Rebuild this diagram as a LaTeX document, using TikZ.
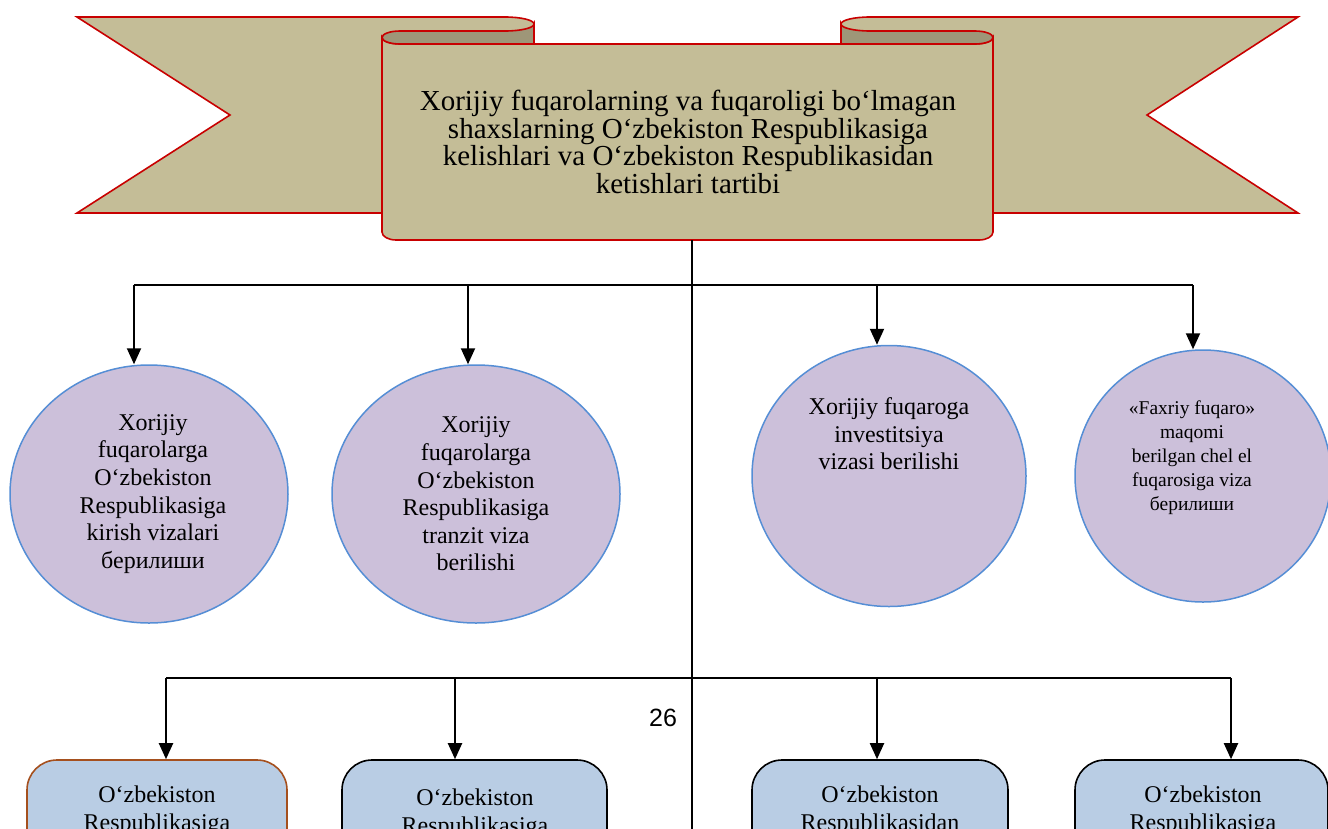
\documentclass[tikz,border=0pt]{standalone}
\usepackage{fontspec}
\setmainfont{Liberation Serif}
\newfontfamily\arialf{Liberation Sans}
\usetikzlibrary{arrows.meta,shapes.geometric}
\definecolor{khaki}{RGB}{196,189,151}
\definecolor{khakid}{RGB}{158,150,120}
\definecolor{rred}{RGB}{200,0,0}
\definecolor{lav}{RGB}{204,192,218}
\definecolor{eblue}{RGB}{85,142,213}
\definecolor{boxfill}{RGB}{185,205,228}
\definecolor{brownb}{RGB}{165,80,30}
\begin{document}
\begin{tikzpicture}[x=1pt,y=-1pt,
 ribbon/.style={fill=khaki,draw=rred,line width=1.6pt},
 curl/.style={fill=khakid,draw=rred,line width=1.6pt},
 oval/.style={ellipse,fill=lav,draw=eblue,line width=1.5pt,inner sep=0pt},
 etext/.style={align=center,font=\fontsize{24}{27.6}\selectfont,inner sep=0pt},
 stext/.style={align=center,font=\fontsize{19.5}{24}\selectfont,inner sep=0pt},
 rbox/.style={draw=black,line width=1.6pt,fill=boxfill,rounded corners=30pt},
 conn/.style={draw=black,line width=2pt},
 arr/.style={conn,-{Triangle[length=16pt,width=14pt]}}]

\useasboundingbox (0,0) rectangle (1328,828);
\clip (0,0) rectangle (1328,828);

% ribbon tails
\draw[ribbon] (230,115) -- (77,17) -- (505,17)
  arc[start angle=-90,end angle=0,x radius=29,y radius=7]
  -- (534,213) -- (77,213) -- cycle;
\draw[ribbon] (1147,115) -- (1298,17) -- (870,17)
  arc[start angle=-90,end angle=-180,x radius=29,y radius=7]
  -- (841,213) -- (1298,213) -- cycle;

% central panel
\draw[ribbon] (382,37.5) -- (382,232)
  arc[start angle=180,end angle=90,x radius=14,y radius=8]
  -- (979,240)
  arc[start angle=90,end angle=0,x radius=14,y radius=8]
  -- (993,37.5)
  arc[start angle=0,end angle=90,x radius=18,y radius=6.5]
  -- (400,44)
  arc[start angle=90,end angle=180,x radius=18,y radius=6.5] -- cycle;

% curls
\draw[curl] (382,37.5)
  arc[start angle=180,end angle=270,x radius=18,y radius=6.5]
  -- (505,31)
  arc[start angle=90,end angle=0,x radius=29,y radius=7]
  -- (534,44) -- (400,44)
  arc[start angle=90,end angle=180,x radius=18,y radius=6.5] -- cycle;
\draw[curl] (841,24)
  arc[start angle=180,end angle=90,x radius=29,y radius=7]
  -- (975,31)
  arc[start angle=-90,end angle=0,x radius=18,y radius=6.5]
  arc[start angle=0,end angle=90,x radius=18,y radius=6.5]
  -- (841,44) -- cycle;

\node[align=center,font=\fontsize{29}{27.5}\selectfont,inner sep=0pt] (title) at (688,142)
 {Xorijiy fuqarolarning va fuqaroligi bo‘lmagan\\shaxslarning O‘zbekiston Respublikasiga\\kelishlari va O‘zbekiston Respublikasidan\\ketishlari tartibi};

% connectors
\coordinate (pb) at (692,240);
\coordinate (bot) at (692,830);
\coordinate (u1) at (134,285);
\coordinate (u2) at (468,285);
\coordinate (u3) at (877,285);
\coordinate (u4) at (1193,285);
\coordinate (l1) at (166,678);
\coordinate (l2) at (455,678);
\coordinate (l3) at (877,678);
\coordinate (l4) at (1231,678);

% ellipses
\node[oval,minimum width=278pt,minimum height=258pt] (e1) at (149,494) {};
\node[oval,minimum width=288pt,minimum height=258pt] (e2) at (476,494) {};
\node[oval,minimum width=274pt,minimum height=261pt] (e3) at (889,476) {};
\node[oval,minimum width=256pt,minimum height=252pt] (e4) at (1203,476) {};

\node[etext] (t1) at (153,494) {Xorijiy\\fuqarolarga\\O‘zbekiston\\Respublikasiga\\kirish vizalari\\берилиши};
\node[etext] (t2) at (476,494) {Xorijiy\\fuqarolarga\\O‘zbekiston\\Respublikasiga\\tranzit viza\\berilishi};
\node[etext] (t3) at (889,434) {Xorijiy fuqaroga\\investitsiya\\vizasi berilishi};
\node[stext] (t4) at (1192,458) {«Faxriy fuqaro»\\maqomi\\berilgan chel el\\fuqarosiga viza\\берилиши};

% boxes
\node[rbox,draw=brownb,minimum width=260pt,minimum height=160pt] (b1) at (157,840) {};
\node[rbox,minimum width=265pt,minimum height=160pt] (b2) at (474.5,840) {};
\node[rbox,minimum width=256pt,minimum height=160pt] (b3) at (880,840) {};
\node[rbox,minimum width=253pt,minimum height=160pt] (b4) at (1201.5,840) {};

\node[etext,anchor=north] (s1) at (157,786) {O‘zbekiston\\Respublikasiga};
\node[etext,anchor=north] (s2) at (475,789) {O‘zbekiston\\Respublikasiga};
\node[etext,anchor=north] (s3) at (880,786) {O‘zbekiston\\Respublikasidan};
\node[etext,anchor=north] (s4) at (1203,786) {O‘zbekiston\\Respublikasiga};

\draw[conn] (pb) -- (bot);
\draw[conn] (u1) -- (u4);
\draw[conn] (l1) -- (l4);
\draw[arr] (u1) -- (u1 |- e1.north);
\draw[arr] (u2) -- (u2 |- e2.north);
\draw[arr] (u3) -- (u3 |- e3.north);
\draw[arr] (u4) -- (u4 |- e4.north);
\draw[arr] (l1) -- (l1 |- b1.north);
\draw[arr] (l2) -- (l2 |- b2.north);
\draw[arr] (l3) -- (l3 |- b3.north);
\draw[arr] (l4) -- (l4 |- b4.north);

\node[font=\arialf\fontsize{25}{30}\selectfont,inner sep=0pt] (pg) at (663,718) {26};
\end{tikzpicture}
\end{document}
